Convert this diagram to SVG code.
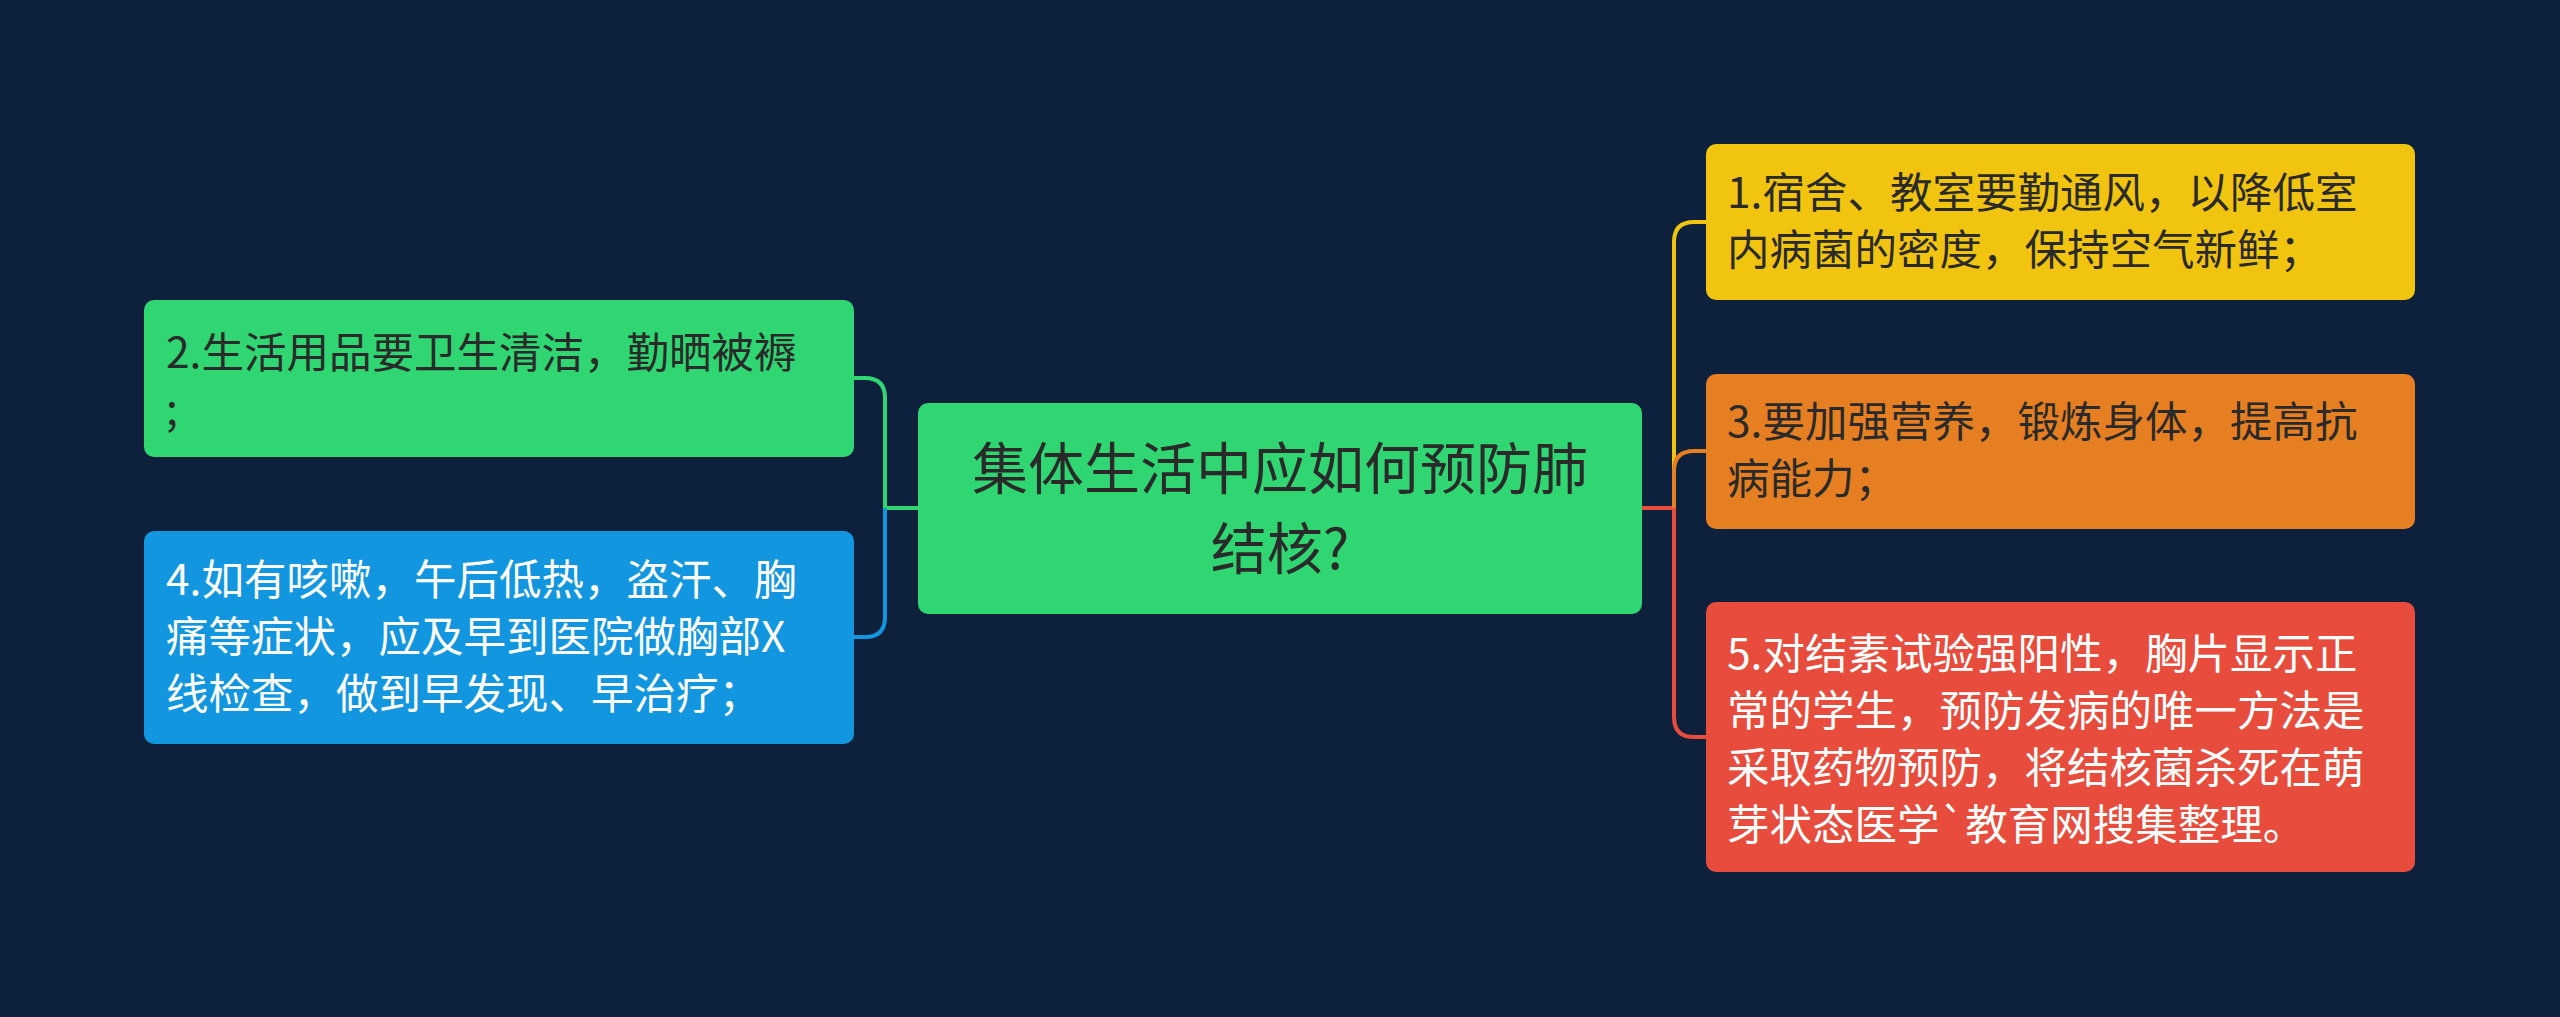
<svg xmlns="http://www.w3.org/2000/svg" width="2560" height="1017" viewBox="0 0 2560 1017">
<style>
.t{font-family:"Noto Sans CJK SC","Liberation Sans",sans-serif;font-size:42.5px}
.d{fill:#2a2a2a}.w{fill:#ffffff}
.c{fill:none;stroke-width:4}
</style>
<rect width="2560" height="1017" fill="#0e213c"/>
<g id="connectors">
<path class="c" stroke="#2fd672" d="M918 508H885V398Q885 378 865 378H854"/>
<path class="c" stroke="#1296e0" d="M885 508V617Q885 637 865 637H854"/>
<path class="c" stroke="#e74c3c" d="M1642 508H1674"/>
<path class="c" stroke="#f1c40f" d="M1674 508V242Q1674 222 1694 222H1706"/>
<path class="c" stroke="#e67e22" d="M1674 508V471Q1674 451 1694 451H1706"/>
<path class="c" stroke="#e74c3c" d="M1674 508V717Q1674 737 1694 737H1706"/>
</g>
<g id="center">
<rect x="918" y="403" width="724" height="211" rx="10" fill="#2fd672"/>
<text class="t d" style="font-size:56px" text-anchor="middle" x="1280" y="489">集体生活中应如何预防肺</text>
<text class="t d" style="font-size:56px" text-anchor="middle" x="1280" y="569">结核?</text>
</g>
<g id="n2">
<rect x="144" y="300" width="710" height="157" rx="10" fill="#2fd672"/>
<text class="t d" x="166" y="368">2.生活用品要卫生清洁，勤晒被褥</text>
<text class="t d" x="166" y="425">;</text>
</g>
<g id="n4">
<rect x="144" y="531" width="710" height="213" rx="10" fill="#1296e0"/>
<text class="t w" x="166" y="595">4.如有咳嗽，午后低热，盗汗、胸</text>
<text class="t w" x="166" y="652">痛等症状，应及早到医院做胸部X</text>
<text class="t w" x="166" y="709">线检查，做到早发现、早治疗；</text>
</g>
<g id="n1">
<rect x="1706" y="144" width="709" height="156" rx="10" fill="#f1c40f"/>
<text class="t d" x="1727" y="208">1.宿舍、教室要勤通风，以降低室</text>
<text class="t d" x="1727" y="265">内病菌的密度，保持空气新鲜；</text>
</g>
<g id="n3">
<rect x="1706" y="374" width="709" height="155" rx="10" fill="#e67e22"/>
<text class="t d" x="1727" y="437">3.要加强营养，锻炼身体，提高抗</text>
<text class="t d" x="1727" y="494">病能力；</text>
</g>
<g id="n5">
<rect x="1706" y="602" width="709" height="270" rx="10" fill="#e74c3c"/>
<text class="t w" x="1727" y="669">5.对结素试验强阳性，胸片显示正</text>
<text class="t w" x="1727" y="726">常的学生，预防发病的唯一方法是</text>
<text class="t w" x="1727" y="783">采取药物预防，将结核菌杀死在萌</text>
<text class="t w" x="1727" y="840">芽状态医学`教育网搜集整理。</text>
</g>
</svg>
